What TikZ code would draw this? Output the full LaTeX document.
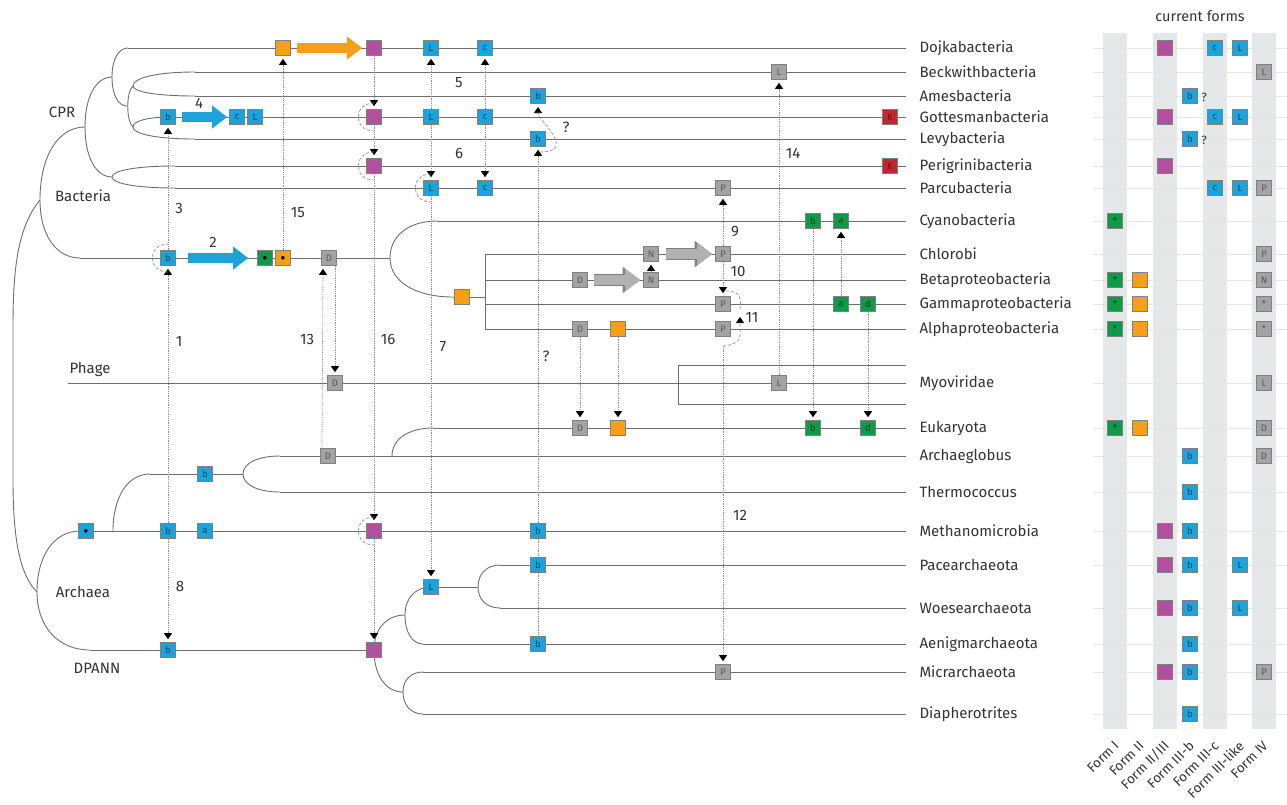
\documentclass[tikz,border=0pt]{standalone}
\usepackage{fontspec}
\setmainfont{Fira Sans}
\usetikzlibrary{arrows.meta}

\definecolor{cblue}{HTML}{1CA3DC}
\definecolor{cpurp}{HTML}{B0509E}
\definecolor{corng}{HTML}{F6A01A}
\definecolor{cgrn}{HTML}{0E9A48}
\definecolor{cgrey}{HTML}{A3A3A3}
\definecolor{cred}{HTML}{C1272D}
\definecolor{cline}{HTML}{6E6E6E}
\definecolor{ccol}{HTML}{E6E7E8}

\begin{document}
\begin{tikzpicture}[x=1pt, y=-1pt,
  tree/.style={draw=cline, line width=0.9pt},
  box/.style={draw=black!50, line width=0.6pt, minimum size=15pt, inner sep=0pt, font=\fontsize{9.5}{9.5}\selectfont},
  bluebox/.style={box, fill=cblue, text=cblue!45!black},
  purplebox/.style={box, fill=cpurp},
  orangebox/.style={box, fill=corng},
  greenbox/.style={box, fill=cgrn, text=cgrn!45!black},
  greybox/.style={box, fill=cgrey, text=black!65},
  redbox/.style={box, fill=cred, text=cred!55!black},
  leaf/.style={anchor=west, font=\fontsize{15}{18}\selectfont, text=black!80},
  num/.style={font=\fontsize{15}{18}\selectfont, text=black!80},
  form/.style={font=\fontsize{13.5}{15}\selectfont, text=black!80, rotate=45, anchor=east},
  xfer/.style={draw=black!45, line width=0.8pt, densely dotted, -{Triangle[length=6pt,width=8pt,color=black]}, shorten >=3pt},
  xline/.style={draw=black!45, line width=0.8pt, densely dotted},
  xloop/.style={draw=black!45, line width=0.7pt, densely dashed},
  fat/.style={line width=10pt, -{Triangle[length=15pt,width=22pt]}},
  greyfat/.style={fat, draw=cgrey!85, preaction={draw=black!50, line width=11.6pt, -{Triangle[length=17.5pt,width=25pt]}}},
]
\useasboundingbox (0,0) rectangle (1287,804);

% Table of current forms
\foreach \cx in {1115,1165,1215,1264}
  \fill[ccol] ({\cx-12},33) rectangle ({\cx+12},729);
\foreach \y in {48,72,96,117,139,166,188,221,254,280,304,329,383,428,456,492,531,565,608,644,672,714}
  \draw[black!10, line width=0.6pt] (1093,\y) -- (1287,\y);

% Tree
\newcommand{\twig}[4]{\draw[tree] (#1,#2) .. controls (#1,{#2+0.6*(#4-#2)}) and ({#1+0.4*(#3-#1)},#4) .. (#3,#4);}
\newcommand{\loopl}[3]{\draw[xloop] (#1,#2) .. controls ({#1-21},#2) and ({#1-21},#3) .. (#1,#3);}

\draw[tree] (40,200) .. controls (15,230) and (13,280) .. (13,330) -- (13,480) .. controls (13,540) and (20,575) .. (37,592);
\twig{40}{200}{85}{127}
\twig{40}{200}{80}{258}
\twig{85}{127}{112}{77}
\twig{85}{127}{112}{177}
\twig{112}{77}{128}{48}
\twig{112}{77}{127}{106}
\draw[tree] (133,86) .. controls (126,92) and (126,121) .. (133,127);
\twig{133}{86}{195}{72}
\twig{133}{86}{195}{96}
\twig{133}{127}{170}{117}
\twig{133}{127}{195}{139}
\twig{112}{177}{175}{166}
\twig{112}{177}{175}{188}
\twig{390}{258}{437}{221}
\twig{390}{258}{453}{297}
\twig{37}{592}{80}{531}
\twig{37}{592}{90}{650}
\twig{113}{531}{150}{474}
\twig{243}{474}{280}{456}
\twig{243}{474}{280}{492}
\twig{392}{456}{433}{428}
\twig{374}{650}{405}{615}
\twig{374}{650}{403}{692}
\twig{405}{615}{431}{587}
\twig{405}{615}{423}{644}
\twig{478}{587}{500}{565}
\twig{478}{587}{500}{608}
\twig{403}{692}{423}{672}
\twig{403}{692}{423}{714}

\foreach \xs/\y in {128/48, 195/72, 195/96, 170/117, 195/139, 175/166, 175/188, 437/221,
    485/254, 485/280, 485/304, 485/329, 68/383, 678/365, 678/404, 433/428, 280/456, 280/492,
    80/531, 500/565, 500/608, 423/644, 423/672, 423/714}
  \draw[tree] (\xs,\y) -- (906,\y);
\draw[tree] (80,258) -- (390,258);
\draw[tree] (453,297) -- (485,297);
\draw[tree] (485,254) -- (485,329);
\draw[tree] (678,365) -- (678,404);
\draw[tree] (150,474) -- (243,474);
\draw[tree] (90,650) -- (374,650);
\draw[tree] (431,587) -- (478,587);

% Boxes on the tree
\node[bluebox] (bbac) at (168,258) {b};
\node[greenbox, text=black] (gbac) at (265,258) {$\bullet$};
\node[orangebox, text=black] (obac) at (283,258) {$\bullet$};
\node[greybox] (dbac) at (329,258) {D};
\node[orangebox] (odoj) at (283,48) {};
\node[purplebox] (pdoj) at (374,48) {};
\node[bluebox] (ldoj) at (431,48) {L};
\node[bluebox] (cdoj) at (485,48) {c};
\node[greybox] (lbec) at (779,72) {L};
\node[bluebox] (bame) at (538,96) {b};
\node[bluebox] (bgot) at (168,117) {b};
\node[bluebox] (cgoa) at (237,117) {c};
\node[bluebox] (lgoa) at (255,117) {L};
\node[purplebox] (pgot) at (374,117) {};
\node[bluebox] (lgot) at (431,117) {L};
\node[bluebox] (cgot) at (485,117) {c};
\node[redbox] (kgot) at (890,117) {K};
\node[bluebox] (blev) at (538,139) {b};
\node[purplebox] (pper) at (374,166) {};
\node[redbox] (kper) at (890,166) {K};
\node[bluebox] (lpar) at (431,188) {L};
\node[bluebox] (cpar) at (485,188) {c};
\node[greybox] (ppar) at (723,188) {P};
\node[greenbox] (bcya) at (813,221) {b};
\node[greenbox] (acya) at (841,221) {a};
\node[orangebox] (opro) at (462,297) {};
\node[greybox] (nchl) at (651,254) {N};
\node[greybox] (pchl) at (723,254) {P};
\node[greybox] (dbet) at (580,280) {D};
\node[greybox] (nbet) at (651,280) {N};
\node[greybox] (pgam) at (723,304) {P};
\node[greenbox] (agam) at (841,304) {a};
\node[greenbox] (dgam) at (868,304) {d};
\node[greybox] (dalp) at (580,329) {D};
\node[orangebox] (oalp) at (618,329) {};
\node[greybox] (palp) at (723,329) {P};
\node[greybox] (dpha) at (335,383) {D};
\node[greybox] (lmyo) at (779,383) {L};
\node[greybox] (deuk) at (580,428) {D};
\node[orangebox] (oeuk) at (618,428) {};
\node[greenbox] (beuk) at (813,428) {b};
\node[greenbox] (deu2) at (868,428) {d};
\node[greybox] (darc) at (328,456) {D};
\node[bluebox] (barc) at (205,474) {b};
\node[bluebox, text=black] (aroot) at (86,531) {$\bullet$};
\node[bluebox] (bmet) at (168,531) {b};
\node[bluebox] (amet) at (205,531) {a};
\node[purplebox] (pmet) at (374,531) {};
\node[bluebox] (bme2) at (538,531) {b};
\node[bluebox] (bpac) at (538,565) {b};
\node[bluebox] (ldpa) at (431,587) {L};
\node[bluebox] (baen) at (538,644) {b};
\node[bluebox] (bdpa) at (168,650) {b};
\node[purplebox] (pdpa) at (374,650) {};
\node[greybox] (pmic) at (723,672) {P};

% Gene transfers
\draw[xfer] (bmet) -- (bbac);
\draw[xfer] (bbac) -- (bgot);
\draw[xfer] (bmet) -- (bdpa);
\draw[xfer] (obac) -- (odoj);
\draw[xfer] (pdoj) -- (pgot);
\draw[xfer] (pgot) -- (pper);
\draw[xfer] (pper) -- (pmet);
\draw[xfer] (pmet) -- (pdpa);
\draw[xfer] (lgot) -- (ldoj);
\draw[xfer] (lgot) -- (lpar);
\draw[xfer] (lpar) -- (ldpa);
\draw[xfer] (cgot) -- (cdoj);
\draw[xfer] (cgot) -- (cpar);
\draw[xfer] (bme2) -- (blev);
\draw[xline] (bme2) -- (bpac);
\draw[xline] (bpac) -- (baen);
\draw[xfer] (lmyo) -- (lbec);
\draw[xfer] ([xshift=-6pt]darc.north) -- ([xshift=-6pt]dbac.south);
\draw[xfer] ([xshift=6pt]dbac.south) -- (dpha.north);
\draw[xfer] (pchl) -- (ppar);
\draw[xfer] (pchl) -- (pgam);
\draw[xfer] (nbet) -- (nchl);
\draw[xfer] (bcya) -- (beuk);
\draw[xfer] (agam) -- (acya);
\draw[xfer] (dgam) -- (deu2);
\draw[xfer] (dalp) -- (deuk);
\draw[xfer] (oalp) -- (oeuk);
\coordinate (k12) at (723,346);
\draw[xfer] (k12) -- (pmic);

\loopl{168}{272}{244}
\loopl{374}{103}{131}
\loopl{374}{152}{180}
\loopl{374}{517}{545}
\loopl{431}{174}{202}
\draw[xloop, -{Triangle[length=6pt,width=8pt,color=black]}] (540,152) .. controls (578,152) and (538,120) .. (538,107);
\draw[xloop] (726,291) .. controls (742,291) and (741,300) .. (740,310);
\draw[xloop, -{Triangle[length=6pt,width=8pt,color=black]}] (k12) .. controls (744,344) and (740,334) .. (740,317);

% Fat arrows
\draw[fat, cblue, shorten <=12pt, shorten >=9pt] (bbac) -- (gbac);
\draw[fat, cblue, shorten <=6pt, shorten >=2pt] (bgot) -- (cgoa);
\draw[fat, corng, shorten <=6pt, shorten >=4pt] (odoj) -- (pdoj);
\draw[greyfat, shorten <=6pt, shorten >=3pt] (dbet) -- (nbet);
\draw[greyfat, shorten <=7pt, shorten >=3pt] (nchl) -- (pchl);

% Numbers
\node[num] (n1) at (179,341) {1};
\node[num] (n2) at (213,242) {2};
\node[num] (n3) at (179,208) {3};
\node[num] (n4) at (199,103) {4};
\node[num] (n5) at (459,83) {5};
\node[num] (n6) at (459,153) {6};
\node[num] (n7) at (443,347) {7};
\node[num] (n8) at (180,586) {8};
\node[num] (n9) at (735,232) {9};
\node[num] (n10) at (738,271) {10};
\node[num] (n11) at (752,317) {11};
\node[num] (n12) at (740,515) {12};
\node[num] (n13) at (307,339) {13};
\node[num] (n14) at (793,153) {14};
\node[num] (n15) at (298,213) {15};
\node[num] (n16) at (388,339) {16};
\node[num] (q1) at (566,127) {?};
\node[num] (q2) at (546,356) {?};

% Clade labels
\node[num] (cpr) at (62,112) {CPR};
\node[num] (bact) at (83,196) {Bacteria};
\node[num] (phage) at (90,369) {Phage};
\node[num] (arch) at (83,592) {Archaea};
\node[num] (dpann) at (97,668) {DPANN};

% Leaves
\foreach \y/\name in {48/Dojkabacteria, 72/Beckwithbacteria, 96/Amesbacteria, 117/Gottesmanbacteria,
    139/Levybacteria, 166/Perigrinibacteria, 188/Parcubacteria, 221/Cyanobacteria, 254/Chlorobi,
    280/Betaproteobacteria, 304/Gammaproteobacteria, 329/Alphaproteobacteria, 383/Myoviridae,
    428/Eukaryota, 456/Archaeglobus, 492/Thermococcus, 531/Methanomicrobia, 565/Pacearchaeota,
    608/Woesearchaeota, 644/Aenigmarchaeota, 672/Micrarchaeota, 714/Diapherotrites}
  \node[leaf] (\name) at (916,\y) {\name};

% Current forms
\foreach \y in {221,280,304,329,428} \node[greenbox] (tI-\y) at (1115,\y) {*};
\foreach \y in {280,304,329,428} \node[orangebox] (tII-\y) at (1140,\y) {};
\foreach \y in {48,117,166,531,565,608,672} \node[purplebox] (tIII-\y) at (1165,\y) {};
\foreach \y in {96,139,456,492,531,565,608,644,672,714} \node[bluebox] (tb-\y) at (1190,\y) {b};
\foreach \y in {48,117,188} \node[bluebox] (tc-\y) at (1215,\y) {c};
\foreach \y in {48,117,188,565,608} \node[bluebox] (tl-\y) at (1240,\y) {L};
\foreach \y/\t in {72/L, 188/P, 254/P, 280/N, 304/*, 329/*, 383/L, 428/D, 456/D, 672/P}
  \node[greybox] (tIV-\y) at (1264,\y) {\t};
\node[num, font=\fontsize{12}{12}\selectfont] (qa) at (1204,97) {?};
\node[num, font=\fontsize{12}{12}\selectfont] (qb) at (1204,140) {?};

\node[num, font=\fontsize{14.5}{16}\selectfont] (cur) at (1200,16) {current forms};
\node[form] (f1) at (1119,741) {Form I};
\node[form] (f2) at (1144,741) {Form II};
\node[form] (f3) at (1169,741) {Form II/III};
\node[form] (f4) at (1194,741) {Form III-b};
\node[form] (f5) at (1219,741) {Form III-c};
\node[form] (f6) at (1244,741) {Form III-like};
\node[form] (f7) at (1268,741) {Form IV};

\end{tikzpicture}
\end{document}
